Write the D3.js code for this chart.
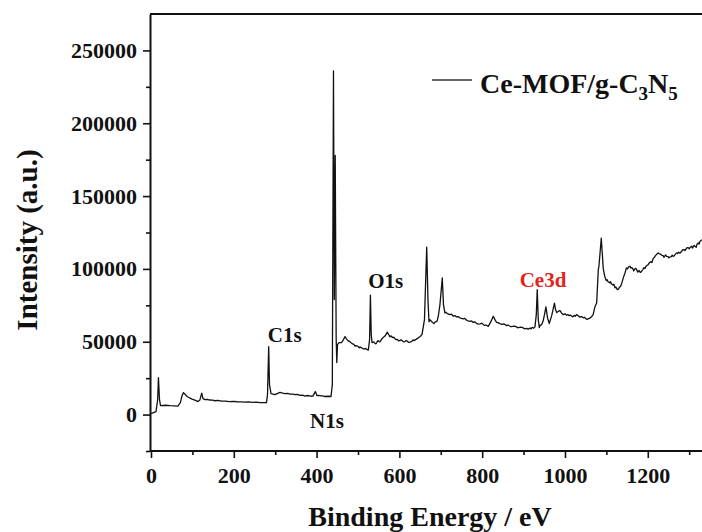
<!DOCTYPE html>
<html>
<head>
<meta charset="utf-8">
<script src="https://cdn.jsdelivr.net/npm/d3@7"></script>
<style>
  body { margin: 0; background: #fff; }
  svg text { font-family: "Times New Roman", "Liberation Serif", serif; font-weight: bold; }
</style>
</head>
<body>
<svg id="chart"></svg>
<script>
// XPS survey spectrum: [binding energy (eV), intensity (a.u.)]
const spectrum = [
  [0, 700], [12, 2000], [16, 10000], [18, 25400], [20.5, 10300], [23, 6200], [35, 6400],
  [46, 6100], [56, 6000], [65, 5800], [71, 8200], [75, 13000], [78.5, 15100], [87, 12400],
  [99, 10600], [106, 9900], [113.5, 8900], [118, 9950], [122.5, 14750], [125.6, 11000],
  [130, 10300], [136, 10500], [142, 10000], [148, 9900], [155, 9500], [162, 9700],
  [170, 9300], [180, 9200], [190, 8900], [199, 9100], [208, 8800], [218, 8700],
  [227, 8600], [236, 8700], [245, 8400], [254, 8500], [263, 8200], [279, 8200],
  [281.4, 13700], [284.3, 46700], [286.2, 20600], [290, 14400], [299.5, 13700],
  [311.6, 15300], [318, 14700], [323.7, 14400], [330, 14500], [336, 14000], [342, 14100],
  [348, 13700], [354, 13800], [360, 13200], [366, 13300], [372, 12700], [378, 13100],
  [383, 12900], [387, 12600], [391, 12700], [397, 15800], [401, 13000], [405, 13200],
  [410, 12800], [415, 12900], [420, 12400], [428, 12600], [434.8, 12400],
  [438, 20600], [440.8, 236000], [442.8, 79000], [445, 178000], [447.3, 51500],
  [448.8, 35700], [450.5, 48000], [454, 49400], [460, 49400], [464, 51000], [468.6, 53500],
  [472, 52000], [476, 50800], [481, 49900], [485.5, 48700], [490, 48200], [493, 47000],
  [495, 47300], [500, 46800], [503, 45900], [505, 46400], [510, 45600], [514.5, 45000],
  [518, 45400], [520, 44900], [525, 44300], [528, 51500], [530, 82000], [532, 54900],
  [534, 49400], [538, 49900], [541, 48900], [543.5, 48600], [548, 50800], [551, 50100],
  [553, 49900], [558, 52100], [562.8, 53500], [566, 54200], [570.8, 56600], [574, 55000],
  [577, 53500], [580, 54000], [583, 52800], [586, 53100], [589, 52200], [592, 51400],
  [595, 51600], [598, 50700], [601, 50800], [604, 51300], [607, 50700], [610, 49900],
  [613.5, 50100], [616, 50800], [619, 50400], [622, 49600], [625.6, 49800], [630, 50300],
  [633, 51300], [635, 50800], [640, 51600], [645, 52500], [650, 53600], [654.6, 54900],
  [660.6, 65200], [666, 115000], [669, 79000], [671.5, 63800], [674, 65100], [676, 64500],
  [680, 63200], [683.6, 62500], [686, 63400], [688.4, 63800], [691, 64200], [694, 67500],
  [698, 75500], [703.6, 93800], [706.5, 75500], [710, 69800], [713, 70100], [716, 69300],
  [719, 69000], [722, 68600], [726, 68900], [730, 67600], [734, 68000], [738.4, 67000],
  [742, 67300], [746, 66400], [750, 66100], [754.3, 65700], [758, 66000], [762, 64900],
  [766, 64400], [770, 64000], [774, 64300], [778.5, 63300], [782, 63700], [786, 62700],
  [790, 62100], [795, 62300], [799, 62700], [802.7, 61800], [806, 61200], [809, 61500],
  [814.7, 60600], [821, 63800], [826.8, 67500], [832, 64500], [835, 63300], [839, 62900],
  [843, 62400], [848, 61900], [853, 62200], [859, 61100], [862, 61500], [866, 60800],
  [870, 60300], [874, 60600], [878, 60700], [883, 60200], [886, 59600], [890, 59900],
  [894, 60100], [899, 59500], [903, 58800], [907.5, 59200], [911, 58600], [915.5, 59500],
  [918, 58900], [921, 59900], [924, 59300], [927.5, 60200], [930.7, 68600], [933, 85800],
  [935.5, 65200], [938, 59700], [940, 61200], [943.7, 61800], [947, 64000], [950.5, 68600],
  [954, 73900], [957.7, 66600], [962, 62500], [967.9, 67900], [974.6, 76500], [977, 72300],
  [980, 70000], [984, 71000], [988, 71400], [992, 69600], [996, 68600], [1000, 69200],
  [1004, 68200], [1007, 68700], [1010, 67900], [1013, 68300], [1016, 67600], [1019, 67100],
  [1022, 68100], [1025, 67500], [1028, 68600], [1032, 67800], [1036, 66900], [1040, 67300],
  [1044, 66400], [1047, 66800], [1050, 66000], [1053, 65300], [1056, 65700], [1060, 66200],
  [1064.5, 67300], [1068, 68600], [1072.5, 74100], [1076.6, 76700], [1080.5, 99500],
  [1082, 101800], [1087.7, 121100], [1092.5, 100200], [1096, 95000], [1099.8, 92000],
  [1102, 92600], [1104, 91200], [1108.7, 90400], [1110, 91300], [1112, 89800],
  [1116.7, 88900], [1118, 89600], [1120.8, 87000], [1123, 87600], [1126.3, 85800],
  [1129.2, 86100], [1131, 87200], [1134.5, 88100], [1137.7, 90600], [1141, 94000],
  [1145, 97200], [1148.5, 100700], [1151, 100000], [1153, 101200], [1157, 101800],
  [1159, 100600], [1161, 100900], [1164, 100200], [1166, 98600], [1168, 99800],
  [1171, 100400], [1173, 99500], [1176, 97800], [1179, 98900], [1182, 97600],
  [1185, 98300], [1188, 99600], [1190.8, 100900], [1193, 100200], [1196, 101900],
  [1198, 102400], [1201, 102900], [1204, 104300], [1207, 105000], [1210, 104400],
  [1213, 107100], [1216, 108000], [1218.6, 109100], [1222, 110200], [1225.4, 111000],
  [1228, 110400], [1231, 110000], [1234, 109300], [1237.4, 109100], [1239, 108000],
  [1241, 108800], [1243, 109600], [1245.7, 108600], [1249, 108400], [1251, 107600],
  [1253.6, 108200], [1257, 108400], [1259, 109500], [1261.6, 108600], [1264, 109100],
  [1266, 109800], [1269.8, 111000], [1272, 110600], [1275, 111500], [1278, 110800],
  [1281.9, 112100], [1284, 113000], [1287, 113300], [1290, 112600], [1294, 114400],
  [1297.8, 114600], [1300, 113800], [1303, 114900], [1306, 115600], [1308, 114300],
  [1310, 115300], [1312, 116200], [1314, 115500], [1317, 114800], [1319, 117000],
  [1322, 117800], [1324, 117100], [1326, 118900], [1328, 119400], [1331, 120100]
];

// tick values
const xTicks = [0, 200, 400, 600, 800, 1000, 1200];
const xMinorTicks = [100, 300, 500, 700, 900, 1100, 1300];
const yTicks = [0, 50000, 100000, 150000, 200000, 250000];
const yMinorTicks = [-25000, 25000, 75000, 125000, 175000, 225000];

// peak labels: [text, energy at text centre, intensity at text baseline, colour]
const peakLabels = [
  ["C1s", 323, 50000, "#111"],
  ["N1s", 425, -9000, "#111"],
  ["O1s", 567, 87000, "#111"],
  ["Ce3d", 947, 87800, "#e3231c"]
];

const width = 702;
const height = 532;
const margin = { top: 14, right: 0, bottom: 81, left: 150 };

const svg = d3.select("#chart")
    .attr("width", width)
    .attr("height", height);

const x = d3.scaleLinear()
    .domain([0, 1331])
    .range([margin.left + 1, width]);

const y = d3.scaleLinear()
    .domain([-25000, 275000])
    .range([height - margin.bottom, margin.top]);

// clip for the trace
svg.append("clipPath").attr("id", "plotClip")
  .append("rect")
    .attr("x", margin.left).attr("y", margin.top)
    .attr("width", width - margin.left).attr("height", height - margin.bottom - margin.top);

// the spectrum line
const line = d3.line()
    .x(d => x(d[0]))
    .y(d => y(d[1]));

svg.append("path")
    .datum(spectrum)
    .attr("clip-path", "url(#plotClip)")
    .attr("fill", "none")
    .attr("stroke", "#111")
    .attr("stroke-width", 1.3)
    .attr("stroke-linejoin", "round")
    .attr("d", line);

// top frame line
svg.append("line")
    .attr("x1", margin.left).attr("x2", width)
    .attr("y1", margin.top).attr("y2", margin.top)
    .attr("stroke", "#111").attr("stroke-width", 2);

// y axis (major + minor)
svg.append("g")
    .attr("transform", `translate(${margin.left},0)`)
    .call(d3.axisLeft(y).tickValues(yTicks).tickSize(7).tickSizeOuter(0).tickPadding(6).tickFormat(d3.format("d")));
svg.append("g")
    .attr("transform", `translate(${margin.left},0)`)
    .call(d3.axisLeft(y).tickValues(yMinorTicks).tickSize(4).tickSizeOuter(0).tickFormat(""))
    .select(".domain").remove();

// x axis (major + minor)
const xAxis = svg.append("g")
    .attr("transform", `translate(0,${height - margin.bottom})`)
    .call(d3.axisBottom(x).tickValues(xTicks).tickSize(7).tickSizeOuter(0).tickPadding(9).tickFormat(d3.format("d")));
xAxis.select(".domain").attr("d", `M${margin.left},0H${width}`);
svg.append("g")
    .attr("transform", `translate(0,${height - margin.bottom})`)
    .call(d3.axisBottom(x).tickValues(xMinorTicks).tickSize(4).tickSizeOuter(0).tickFormat(""))
    .select(".domain").remove();

svg.selectAll(".domain").attr("stroke", "#111").attr("stroke-width", 2);
svg.selectAll(".tick line").attr("stroke", "#111").attr("stroke-width", 1.6);
svg.selectAll(".tick text")
    .attr("fill", "#111")
    .style("font-size", "22px")
    .style("font-family", "'Times New Roman', 'Liberation Serif', serif")
    .style("font-weight", "bold");

// axis titles
svg.append("text")
    .attr("x", 430).attr("y", 526)
    .attr("text-anchor", "middle")
    .attr("fill", "#111")
    .style("font-size", "28px")
    .text("Binding Energy / eV");

svg.append("text")
    .attr("transform", "translate(37,240) rotate(-90)")
    .attr("text-anchor", "middle")
    .attr("fill", "#111")
    .style("font-size", "29px")
    .text("Intensity (a.u.)");

// peak labels
svg.selectAll(".peak-label")
    .data(peakLabels)
    .enter().append("text")
    .attr("class", "peak-label")
    .attr("x", d => x(d[1]))
    .attr("y", d => y(d[2]))
    .attr("text-anchor", "middle")
    .attr("fill", d => d[3])
    .style("font-size", "21px")
    .text(d => d[0]);

// legend
const legend = svg.append("g").attr("transform", "translate(432,80)");
legend.append("line")
    .attr("x1", 0).attr("x2", 40)
    .attr("stroke", "#333").attr("stroke-width", 1.3);
const legendText = legend.append("text")
    .attr("x", 48).attr("y", 13)
    .attr("fill", "#111")
    .style("font-size", "28px");
legendText.append("tspan").text("Ce-MOF/g-C");
legendText.append("tspan").attr("dy", 7).style("font-size", "19px").text("3");
legendText.append("tspan").attr("dy", -7).text("N");
legendText.append("tspan").attr("dy", 7).style("font-size", "19px").text("5");
</script>
</body>
</html>
